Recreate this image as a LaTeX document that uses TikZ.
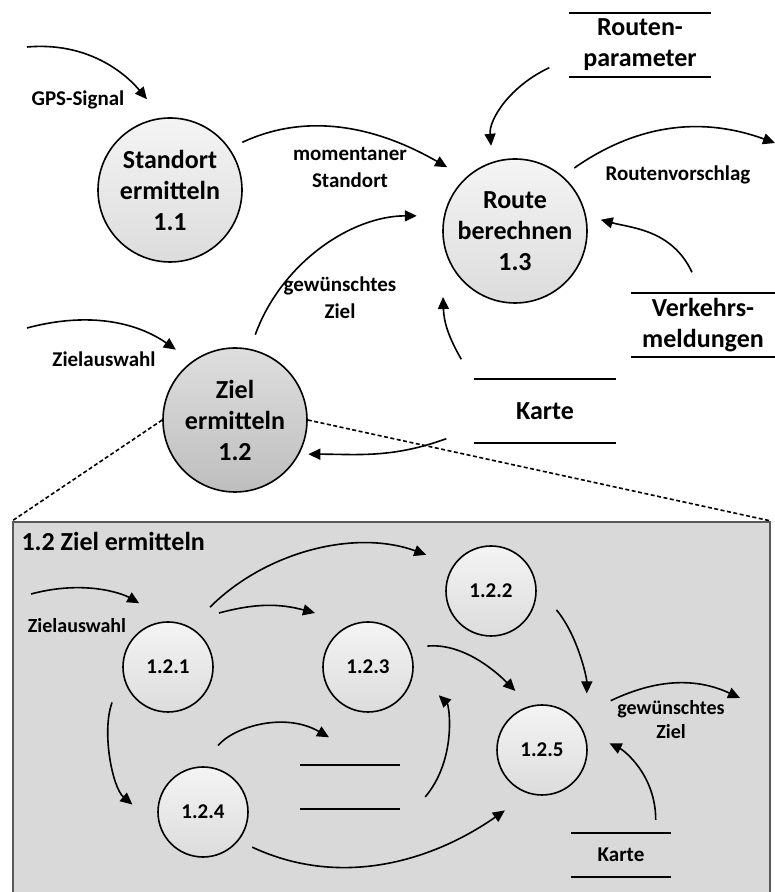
\documentclass[tikz,border=0pt]{standalone}
\usepackage{fontspec}
\setmainfont{Carlito}
\usetikzlibrary{arrows.meta}
\definecolor{boxfill}{HTML}{D9D9D9}
\definecolor{boxline}{HTML}{595959}
\definecolor{proctop}{HTML}{F4F4F4}
\definecolor{procbot}{HTML}{DCDCDC}
\definecolor{seltop}{HTML}{DEDEDE}
\definecolor{selbot}{HTML}{BEBEBE}
\newcommand{\storelines}[1]{\draw[storeline] (#1.north west) -- (#1.north east) (#1.south west) -- (#1.south east);}

\begin{document}
\begin{tikzpicture}[
  x=1pt, y=1pt,
  proc/.style={circle, draw, line width=1.6pt, top color=proctop, bottom color=procbot,
               align=center, inner sep=0pt, minimum size=144pt,
               font=\bfseries\fontsize{26}{31}\selectfont},
  subproc/.style={proc, minimum size=90pt, font=\bfseries\fontsize{21}{25}\selectfont},
  store/.style={minimum width=141pt, minimum height=63pt, align=center, inner sep=0pt,
                font=\bfseries\fontsize{26}{31}\selectfont},
  storeline/.style={line width=2pt},
  flow/.style={-{Triangle[length=12pt,width=11pt]}, line width=1.6pt},
  lbl/.style={align=center, font=\bfseries\fontsize{21}{27}\selectfont},
  sublbl/.style={align=center, font=\bfseries\fontsize{20}{24}\selectfont},
  zoomline/.style={dash pattern=on 4pt off 2.5pt, line width=1.6pt}
  ]
  \useasboundingbox (0,0) rectangle (775,892);

  % level 1
  \node[proc] (stand) at (170,702) {Standort\\ermitteln\\1.1};
  \node[proc] (route) at (515,661) {Route\\berechnen\\1.3};
  \node[proc, top color=seltop, bottom color=selbot] (ziel) at (235,472) {Ziel\\ermitteln\\1.2};

  \node[store] (rparam) at (640,847) {Routen-\\parameter};
  \node[store, minimum width=143pt] (verk) at (703,567) {Verkehrs-\\meldungen};
  \node[store] (karte) at (545,481) {Karte};
  \storelines{rparam}
  \storelines{verk}
  \storelines{karte}

  \coordinate (gpsin) at (27,845);
  \coordinate (zielin) at (27,564);
  \coordinate (vorschlag) at (775,749);

  \draw[flow, shorten >=24pt] (gpsin) to[out=5, in=130] (stand.96);
  \draw[flow, shorten <=14pt, shorten >=21pt] (stand.35) to[out=25, in=150] (route.133);
  \draw[flow, shorten <=15pt, shorten >=27pt] (ziel.78) to[out=70, in=180] (route.168);
  \draw[flow, shorten >=16pt] ([shift={(-20,9)}]rparam.south west) to[out=205, in=95] (route.108);
  \draw[flow, shorten <=14pt] (route.49) to[out=35, in=160] (vorschlag);
  \draw[flow, shorten >=15pt] ([shift={(-11,21)}]verk.north) to[out=115, in=-15] (route.12);
  \draw[flow] ([shift={(-13,20)}]karte.north west) to[out=120, in=-88] ([shift={(-72,-66)}]route.center);
  \draw[flow, shorten >=9pt] ([shift={(-28,4)}]karte.south west) to[out=200, in=0] (ziel.332);
  \draw[flow, shorten >=20pt] (zielin) to[out=15, in=145] (ziel.126);

  \node[lbl] (gpslbl) at (78,792) {GPS-Signal};
  \node[lbl] (momlbl) at (350,725) {momentaner\\Standort};
  \node[lbl] (vorlbl) at (678,717) {Routenvorschlag};
  \node[lbl] (gzlbl) at (340,594) {gewünschtes\\Ziel};
  \node[lbl] (zalbl) at (104,533) {Zielauswahl};

  % detail 1.2
  \node[draw=boxline, fill=boxfill, line width=2pt, anchor=north west,
        minimum width=757pt, minimum height=380pt, inner sep=0pt] (detail) at (12,371) {};
  \draw[zoomline] (ziel.west) -- (detail.north west);
  \draw[zoomline] (ziel.east) -- (detail.north east);
  \node[anchor=west, font=\bfseries\fontsize{26}{30}\selectfont] (dettitle) at (18,351) {1.2 Ziel ermitteln};

  \node[subproc] (p1) at (168,225) {1.2.1};
  \node[subproc] (p2) at (491,301) {1.2.2};
  \node[subproc] (p3) at (368,225) {1.2.3};
  \node[subproc] (p4) at (203,80) {1.2.4};
  \node[subproc] (p5) at (542,142) {1.2.5};

  \node[store, minimum width=100pt, minimum height=43pt] (zwisch) at (350,105) {};
  \node[store, minimum width=99pt, minimum height=44pt, font=\bfseries\fontsize{21}{25}\selectfont] (skarte) at (621,37) {Karte};
  \storelines{zwisch}
  \storelines{skarte}

  \coordinate (szielin) at (31,298);
  \coordinate (szielout) at (740,194);

  \draw[flow, shorten >=36pt] (szielin) to[out=15, in=150] (p1.87);
  \draw[flow, shorten <=28pt, shorten >=29pt] (p1.61) to[out=45, in=160] (p2.145);
  \draw[flow] ([shift={(51,54)}]p1.center) to[out=15, in=165] ([shift={(-53,54)}]p3.center);
  \draw[flow, shorten <=18pt, shorten >=21pt] (p3.25) to[out=5, in=135] (p5.105);
  \draw[flow, shorten <=31pt, shorten >=47pt] (p2.6) to[out=-50, in=90] (p5.12);
  \draw[flow, shorten <=40pt] (p5.45) to[out=25, in=155] (szielout);
  \draw[flow, shorten >=29pt] ([shift={(-15,13)}]skarte.north east) to[out=90, in=-26] (p5.25);
  \draw[flow, shorten <=31pt, shorten >=36pt] (p1.188) to[out=250, in=140] (p4.200);
  \draw[flow, shorten <=27pt] (p4.93) to[out=50, in=150] ([shift={(-21,28)}]zwisch.north);
  \draw[flow, shorten >=35pt] ([shift={(25,-10)}]zwisch.east) to[out=50, in=-44] (p3.-5);
  \draw[flow, shorten <=15pt, shorten >=29pt] (p4.-39) to[out=-25, in=215] (p5.253);

  \node[sublbl] (szalbl) at (77,266) {Zielauswahl};
  \node[sublbl] (sgzlbl) at (671,172) {gewünschtes\\Ziel};
\end{tikzpicture}
\end{document}
